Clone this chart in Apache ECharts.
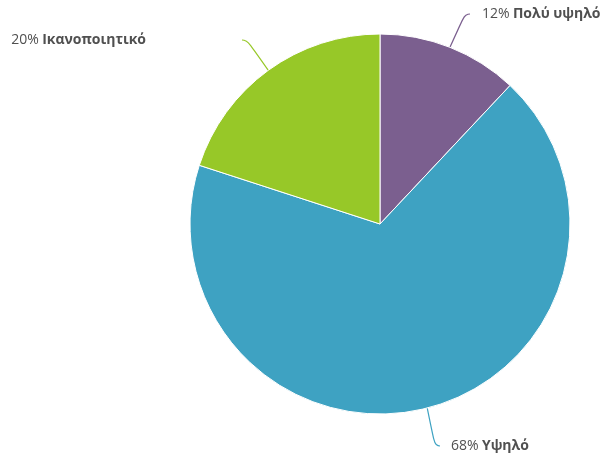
<!DOCTYPE html>
<html>
<head>
    <meta charset="utf-8">
    <script src="https://cdn.jsdelivr.net/npm/echarts@6/dist/echarts.min.js"></script>
    <style>
        html, body { margin: 0; padding: 0; background: #fff; }
        #chart { width: 601px; height: 462px; }
    </style>
</head>
<body>
    <div id="chart"></div>
    <script>
        // slices, clockwise from 12 o'clock
        const names = ['Πολύ υψηλό', 'Υψηλό', 'Ικανοποιητικό'];
        const values = [12, 68, 20];
        const colors = ['#7b5f8f', '#3ea2c2', '#97c828'];

        // where each label line ends and which side the text goes
        const labelSpots = [
            { x: 470, y: 14, align: 'left', gap: 12 },
            { x: 440, y: 446, align: 'left', gap: 11 },
            { x: 242, y: 40, align: 'right', gap: 96 }
        ];

        const font = { fontFamily: 'Open Sans', fontSize: 14, color: '#505050' };

        const chart = echarts.init(document.getElementById('chart'));
        chart.setOption({
            animation: false,
            series: [{
                type: 'pie',
                center: [380, 224],
                radius: 190,
                startAngle: 90,
                clockwise: true,
                itemStyle: { borderColor: '#fff', borderWidth: 1 },
                label: {
                    overflow: 'none',
                    formatter: p => {
                        const txt = `{p|${p.value}%} {n|${p.name}}`;
                        return labelSpots[p.dataIndex].align === 'left'
                            ? `{g${p.dataIndex}| }` + txt
                            : txt + `{g${p.dataIndex}| }`;
                    },
                    rich: {
                        p: font,
                        n: Object.assign({}, font, { fontWeight: 'bold' }),
                        g0: { width: labelSpots[0].gap },
                        g1: { width: labelSpots[1].gap },
                        g2: { width: labelSpots[2].gap }
                    }
                },
                labelLine: { length: 25, length2: 5, smooth: 0.6, lineStyle: { width: 1.2 } },
                labelLayout: p => {
                    const s = labelSpots[p.dataIndex];
                    return { x: s.x, y: s.y, align: s.align, verticalAlign: 'middle' };
                },
                data: names.map((n, i) => ({
                    name: n,
                    value: values[i],
                    itemStyle: { color: colors[i] },
                    labelLine: { lineStyle: { color: colors[i] } }
                }))
            }]
        });
    </script>
</body>
</html>
